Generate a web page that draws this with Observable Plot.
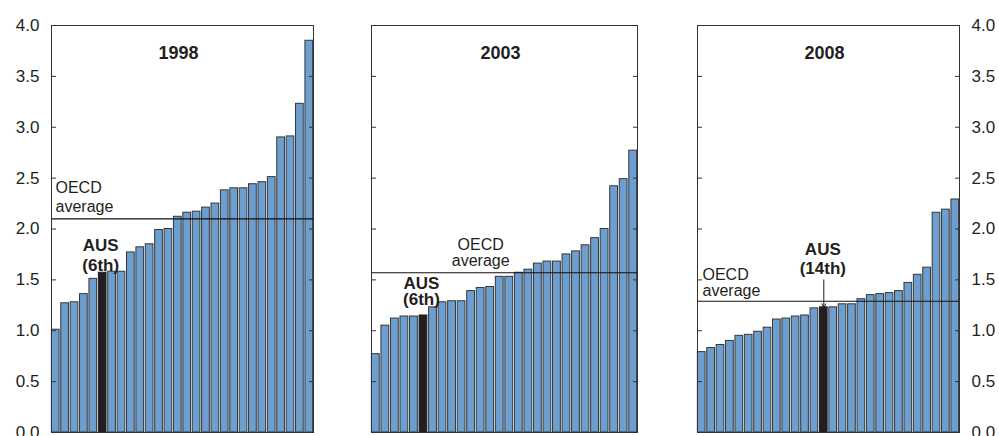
<!DOCTYPE html>
<html>
<head>
<meta charset="utf-8">
<script src="https://cdn.jsdelivr.net/npm/d3@7"></script>
<script src="https://cdn.jsdelivr.net/npm/@observablehq/plot@0.6"></script>
<style>
  html, body { margin: 0; padding: 0; background: #fff; }
  #chart { position: relative; width: 999px; height: 436px; overflow: hidden; background: #fff; }
  #chart svg { position: absolute; top: 0; font-family: "Liberation Sans", Arial, Helvetica, sans-serif; color: #231f20; }
</style>
</head>
<body>
<div id="chart"></div>
<script>
// ---- data ----
const years = ["1998", "2003", "2008"];
const values1998 = [1.01, 1.27, 1.28, 1.36, 1.51, 1.57, 1.58, 1.58, 1.77, 1.82, 1.85, 1.99, 2.00, 2.12, 2.16, 2.17, 2.21, 2.25, 2.38, 2.40, 2.40, 2.44, 2.46, 2.51, 2.90, 2.91, 3.23, 3.85];
const values2003 = [0.77, 1.05, 1.12, 1.14, 1.14, 1.15, 1.23, 1.28, 1.29, 1.29, 1.39, 1.42, 1.43, 1.53, 1.53, 1.57, 1.60, 1.66, 1.68, 1.68, 1.75, 1.78, 1.84, 1.91, 2.00, 2.42, 2.49, 2.77];
const values2008 = [0.79, 0.83, 0.86, 0.90, 0.95, 0.96, 0.99, 1.03, 1.11, 1.12, 1.14, 1.15, 1.22, 1.23, 1.23, 1.26, 1.26, 1.31, 1.35, 1.36, 1.37, 1.39, 1.47, 1.55, 1.62, 2.16, 2.19, 2.29];
const oecdAverage = [2.10, 1.57, 1.29];
const ausRank = [6, 6, 14];
const ausLabels = ["AUS\n(6th)", "AUS\n(6th)", "AUS\n(14th)"];
const oecdLabel = "OECD\naverage";
const yTicks = [0, 0.5, 1.0, 1.5, 2.0, 2.5, 3.0, 3.5, 4.0];

const series = [values1998, values2003, values2008];

// ---- styling / layout ----
const BLUE = "#6c9fd0";
const BLACK = "#231f20";
const OUTLINE = "#363636";
const H = 436;
const layouts = [
  {left: 0,   width: 318, ml: 51, mr: 5,  leftLabels: true,  rightLabels: false},
  {left: 366, width: 276, ml: 5,  mr: 5,  leftLabels: false, rightLabels: false},
  {left: 692, width: 307, ml: 5,  mr: 40, leftLabels: false, rightLabels: true}
];
// annotation placement (value-space), per panel
const oecdText = [
  {anchor: "left", dx: 4, lineHeight: 1.17, y: 2.17},
  {anchor: "center", xIndex: 11, lineHeight: 1.0, y: 1.64},
  {anchor: "left", dx: 5, lineHeight: 1.0, y: 1.34}
];
const ausText = [
  {y: 1.59, dx: -2, lineHeight: 1.15},
  {y: 1.25, dx: -2, lineHeight: 0.95},
  {y: 1.56, dx: -1, lineHeight: 1.1}
];
const arrow2008 = {y1: 1.50};

const fmt = d3.format(".1f");
const root = document.getElementById("chart");

years.forEach((year, p) => {
  const L = layouts[p];
  const vals = series[p];
  const data = vals.map((v, i) => ({i, v, aus: i === ausRank[p] - 1}));
  const ausIdx = ausRank[p] - 1;
  const marks = [
    Plot.barY(data.filter(d => !d.aus), {x: "i", y: "v", fill: BLUE, stroke: OUTLINE, strokeWidth: 1}),
    Plot.barY(data.filter(d => d.aus), {x: "i", y: "v", fill: BLACK, stroke: BLACK, strokeWidth: 1}),
    Plot.ruleY([oecdAverage[p]], {stroke: "#111", strokeWidth: 1.1}),
    Plot.axisY({anchor: "left", ticks: yTicks, tickSize: -5, tickFormat: () => "", label: null, stroke: "#333"}),
    Plot.axisY({anchor: "right", ticks: yTicks, tickSize: -5, tickFormat: () => "", label: null, stroke: "#333"}),
    Plot.frame({stroke: "#333", strokeWidth: 1}),
    Plot.text([year], {frameAnchor: "top", lineAnchor: "middle", dy: 28, dx: -4, text: d => d, fontWeight: "bold", fontSize: 18, fill: BLACK})
  ];
  if (L.leftLabels) marks.push(Plot.axisY({anchor: "left", ticks: yTicks, tickSize: 0, tickPadding: 12, tickFormat: fmt, label: null, fontSize: 17}));
  if (L.rightLabels) marks.push(Plot.axisY({anchor: "right", ticks: yTicks, tickSize: 0, tickPadding: 12, tickFormat: fmt, label: null, fontSize: 17}));

  const o = oecdText[p];
  if (o.anchor === "left") {
    marks.push(Plot.text([oecdLabel], {frameAnchor: "left", y: () => o.y, dx: o.dx, text: d => d, textAnchor: "start", lineAnchor: "bottom", lineHeight: o.lineHeight, fontSize: 16, fill: BLACK}));
  } else {
    marks.push(Plot.text([oecdLabel], {x: () => o.xIndex, y: () => o.y, text: d => d, textAnchor: "middle", lineAnchor: "bottom", lineHeight: o.lineHeight, fontSize: 16, fill: BLACK}));
  }
  const a = ausText[p];
  marks.push(Plot.text([ausLabels[p]], {x: () => ausIdx, y: () => a.y, dx: a.dx, text: d => d, textAnchor: "middle", lineAnchor: "bottom", lineHeight: a.lineHeight, fontSize: 17, fontWeight: "bold", fill: BLACK}));
  if (p === 2) {
    marks.push(Plot.arrow([{x: ausIdx, y1: arrow2008.y1, y2: vals[ausIdx]}], {x1: "x", x2: "x", y1: "y1", y2: "y2", stroke: BLACK, strokeWidth: 1, headLength: 6}));
  }

  const svg = Plot.plot({
    width: L.width,
    height: H,
    marginLeft: L.ml,
    marginRight: L.mr,
    marginTop: 25,
    marginBottom: 4,
    style: {background: "transparent", fontFamily: "'Liberation Sans', Arial, Helvetica, sans-serif", color: BLACK, overflow: "visible"},
    x: {type: "band", domain: d3.range(vals.length), paddingInner: 0.18, paddingOuter: 0.04, round: false, axis: null},
    y: {domain: [0, 4], label: null},
    marks
  });
  svg.style.left = L.left + "px";
  root.appendChild(svg);
});
</script>
</body>
</html>
